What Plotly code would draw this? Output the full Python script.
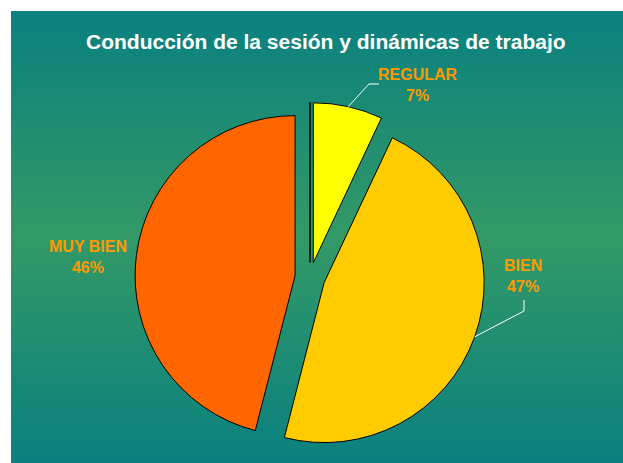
import math
import plotly.graph_objects as go

# ---- data ----
categories = ["MAL", "REGULAR", "BIEN", "MUY BIEN"]
values = [0, 7, 47, 46]
slice_colors = ["#FFFF99", "#FFFF00", "#FFCC00", "#FF6600"]
title_text = "Conducción de la sesión y dinámicas de trabajo"

# ---- layout geometry (page pixels) ----
W, H = 623, 463
OFF = 0
CX, CY, R = 310, 277.5, 160
PULL = 0.094
FONT = "Liberation Sans, Arial, sans-serif"
LABEL_COLOR = "#FF9900"

# label text centres and leader anchors (pixels); None = no leader
label_style = {
    "REGULAR": dict(pos=(418, 85), anchor=(379, 84), elbow=(369, 84)),
    "BIEN": dict(pos=(523, 276), anchor=(524, 300), elbow=(524, 311)),
    "MUY BIEN": dict(pos=(88, 257), anchor=None, elbow=None),
}


def px(x):
    return (x - OFF) / W


def py(y):
    return 1 - (y - OFF) / H


box = R * (1 + PULL)
fig = go.Figure()

# gradient background
fig.add_trace(go.Scatter(
    x=[11, W + OFF, W + OFF, 11, 11], y=[11, 11, H + OFF, H + OFF, 11],
    mode="lines", line=dict(width=0), fill="toself",
    fillgradient=dict(type="vertical",
                      colorscale=[[0, "#0A8080"], [0.5, "#339966"], [1, "#0A8080"]]),
    hoverinfo="skip", showlegend=False,
))

fig.add_trace(go.Pie(
    labels=categories, values=values, sort=False, direction="clockwise",
    rotation=0, pull=[PULL] * len(values),
    marker=dict(colors=slice_colors, line=dict(color="black", width=1)),
    textinfo="none", hoverinfo="label+percent", showlegend=False,
    domain=dict(x=[px(CX - box), px(CX + box)], y=[py(CY + box), py(CY - box)]),
))

total = sum(values)
cum = 0
annotations = []
shapes = []
for cat, v in zip(categories, values):
    mid = 2 * math.pi * (cum + v / 2) / total
    cum += v
    if cat not in label_style:
        continue
    st = label_style[cat]
    pct = round(100 * v / total)
    annotations.append(dict(
        x=px(st["pos"][0]), y=py(st["pos"][1]), xref="paper", yref="paper",
        text=f"{cat}<br>{pct}%", showarrow=False, xanchor="center", yanchor="middle",
        font=dict(family=FONT, size=16, color=LABEL_COLOR, weight="bold"),
    ))
    if st["anchor"] is not None:
        ex = CX + (1 + PULL) * R * math.sin(mid)
        ey = CY - (1 + PULL) * R * math.cos(mid)
        path = (f"M {px(ex)},{py(ey)} L {px(st['elbow'][0])},{py(st['elbow'][1])} "
                f"L {px(st['anchor'][0])},{py(st['anchor'][1])}")
        shapes.append(dict(type="path", path=path, xref="paper", yref="paper",
                           line=dict(color="white", width=1)))

annotations.append(dict(
    x=px(325.5), y=py(42), xref="paper", yref="paper", text=title_text,
    showarrow=False, xanchor="center", yanchor="middle",
    font=dict(family=FONT, size=21, color="white", weight="bold"),
))

fig.update_layout(
    width=W, height=H, margin=dict(l=0, r=0, t=0, b=0),
    paper_bgcolor="white", plot_bgcolor="rgba(0,0,0,0)",
    xaxis=dict(range=[OFF, W + OFF], visible=False, fixedrange=True),
    yaxis=dict(range=[H + OFF, OFF], visible=False, fixedrange=True),
    annotations=annotations, shapes=shapes, showlegend=False,
)

fig.write_html(
    "out.html",
    config={"displayModeBar": False, "staticPlot": True},
    post_script="document.body.style.margin='0';document.body.style.overflow='hidden';",
)
